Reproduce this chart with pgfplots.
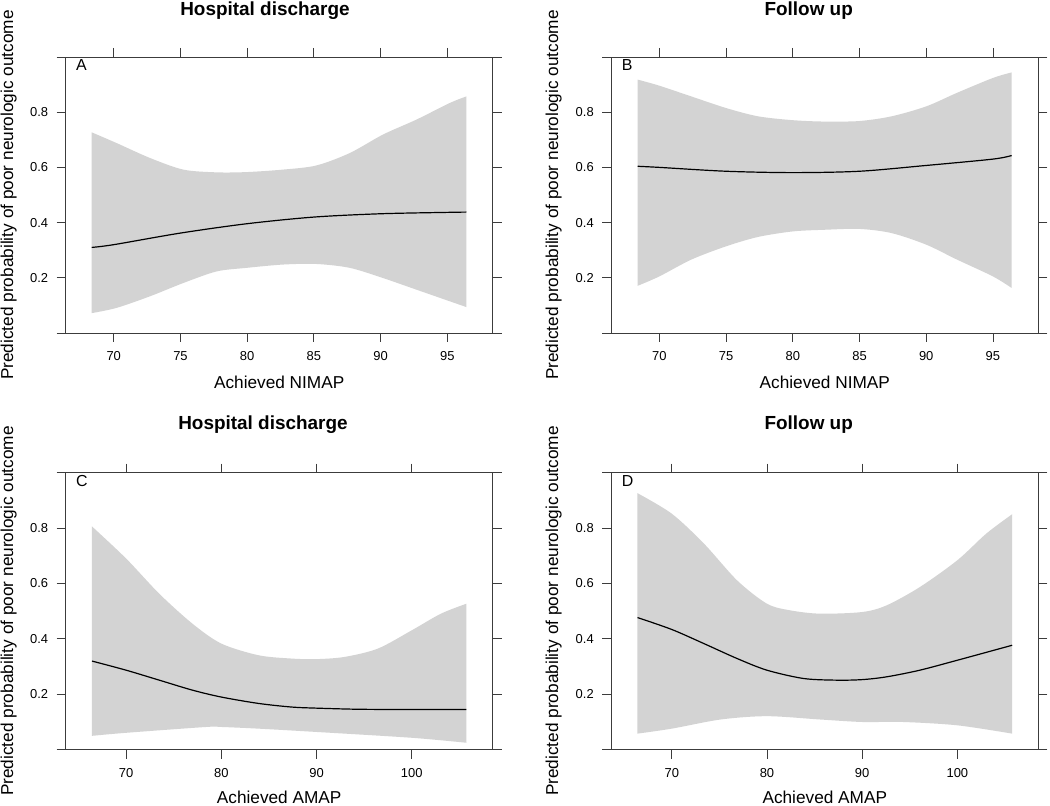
\documentclass[border=0pt]{standalone}
\usepackage{pgfplots}
\pgfplotsset{compat=1.18}
\usepgfplotslibrary{fillbetween}
\usepackage{fontspec}
\setmainfont{Liberation Sans}

\definecolor{band}{RGB}{211,211,211}
\definecolor{frame}{RGB}{60,60,60}

\pgfplotsset{
  panel/.style={
    scale only axis,
    width=427bp, height=276bp,
    anchor=south west,
    ymin=0, ymax=1,
    ytick={0,0.2,0.4,0.6,0.8,1},
    yticklabels={,0.2,0.4,0.6,0.8,},
    tick align=outside,
    xtick pos=both, ytick pos=both,
    xticklabel pos=lower, yticklabel pos=left,
    major tick length=9bp,
    axis line style={frame, line width=0.9bp},
    every tick/.style={frame, line width=0.9bp},
    tick label style={font=\fontsize{13}{15}\selectfont, inner sep=0pt},
    xticklabel style={yshift=-9.7bp},
    yticklabel style={xshift=-8.4bp},
    /pgf/number format/assume math mode=true,
  },
  nimap/.style={panel, xmin=66.4, xmax=98.4, xtick={70,75,80,85,90,95}},
  amap/.style={panel, height=277bp, xmin=63.65, xmax=108.5, xtick={70,80,90,100}},
  bandup/.style={name path=up, draw=none, smooth},
  bandlo/.style={name path=lo, draw=none, smooth},
  fitline/.style={black, line width=1.2bp, smooth},
}

\newcommand{\ttl}{\fontsize{19}{21}\selectfont\bfseries}
\newcommand{\lbl}{\fontsize{17.3}{19}\selectfont}
\newcommand{\ltr}{\fontsize{16}{18}\selectfont}

\begin{document}
\begin{tikzpicture}[x=1bp, y=1bp]

% A: hospital discharge, NIMAP
\begin{axis}[nimap, at={(65.7bp,473bp)}]
\addplot[bandup] coordinates {(68.35,0.727) (70.22,0.688) (72.72,0.634) (75.21,0.592) (77.71,0.582) (79.96,0.583) (82.70,0.592) (85.19,0.607) (87.69,0.652) (90.18,0.719) (92.68,0.773) (95.17,0.833) (96.42,0.857)};
\addplot[bandlo] coordinates {(68.35,0.072) (70.22,0.091) (72.72,0.133) (75.21,0.181) (77.71,0.223) (79.96,0.236) (82.70,0.248) (85.19,0.250) (87.69,0.236) (90.18,0.199) (92.68,0.157) (95.17,0.115) (96.42,0.094)};
\addplot[band, draw=none] fill between[of=up and lo];
\addplot[fitline] coordinates {(68.35,0.310) (70,0.320) (75,0.362) (80,0.396) (85,0.420) (90,0.432) (95,0.437) (96.42,0.438)};
\end{axis}

% B: follow up, NIMAP
\begin{axis}[nimap, at={(611.3bp,473bp)}]
\addplot[bandup] coordinates {(68.38,0.918) (70,0.896) (72.4,0.857) (75,0.815) (77.4,0.785) (80,0.771) (82.4,0.766) (85,0.768) (87.4,0.785) (90,0.821) (92.3,0.870) (95,0.924) (96.4,0.944)};
\addplot[bandlo] coordinates {(68.38,0.171) (70,0.205) (72.4,0.266) (75,0.314) (77.4,0.348) (80,0.368) (82.4,0.374) (85,0.377) (87.4,0.362) (90,0.320) (92.3,0.266) (95,0.205) (96.4,0.163)};
\addplot[band, draw=none] fill between[of=up and lo];
\addplot[fitline] coordinates {(68.38,0.604) (70,0.600) (75,0.586) (80,0.581) (85,0.586) (90,0.607) (95,0.630) (96.4,0.643)};
\end{axis}

% C: hospital discharge, AMAP
\begin{axis}[amap, at={(65.7bp,56.3bp)}]
\addplot[bandup] coordinates {(66.41,0.806) (70,0.690) (73.48,0.563) (76.96,0.455) (80,0.383) (83.9,0.341) (87.37,0.329) (90,0.327) (92.96,0.335) (96.44,0.365) (100,0.431) (103.06,0.491) (105.74,0.527)};
\addplot[bandlo] coordinates {(66.41,0.050) (70,0.061) (78.4,0.082) (80,0.082) (83.9,0.076) (90,0.064) (100,0.043) (105.74,0.025)};
\addplot[band, draw=none] fill between[of=up and lo];
\addplot[fitline] coordinates {(66.41,0.320) (70,0.287) (73.48,0.251) (76.96,0.215) (80,0.190) (83.9,0.167) (87.37,0.154) (90,0.150) (94.35,0.146) (100,0.145) (105.74,0.145)};
\end{axis}

% D: follow up, AMAP
\begin{axis}[amap, at={(611.3bp,56.3bp)}]
\addplot[bandup] coordinates {(66.40,0.926) (70,0.852) (73.38,0.744) (76.87,0.611) (80,0.527) (82.45,0.503) (85.59,0.491) (90,0.497) (92.56,0.521) (96.05,0.587) (100,0.684) (103.03,0.780) (105.75,0.850)};
\addplot[bandlo] coordinates {(66.40,0.058) (70,0.076) (75.13,0.109) (80,0.121) (85.59,0.109) (90,0.100) (94.3,0.100) (100,0.088) (105.75,0.058)};
\addplot[band, draw=none] fill between[of=up and lo];
\addplot[fitline] coordinates {(66.40,0.477) (70,0.434) (73.38,0.383) (76.87,0.329) (80,0.287) (83.85,0.257) (87.34,0.251) (90,0.253) (92.56,0.263) (96.05,0.287) (100,0.323) (105.75,0.377)};
\end{axis}

\begin{scope}[every node/.style={inner sep=0pt}]
% titles
\node[anchor=base, font=\ttl] at (265,790) {Hospital discharge};
\node[anchor=base, font=\ttl] at (808.7,790) {Follow up};
\node[anchor=base, font=\ttl] at (263,376.3) {Hospital discharge};
\node[anchor=base, font=\ttl] at (808.7,376.3) {Follow up};

% x labels
\node[anchor=base, font=\lbl] at (279.2,417) {Achieved NIMAP};
\node[anchor=base, font=\lbl] at (824.8,417) {Achieved NIMAP};
\node[anchor=base, font=\lbl] at (279.2,2.5) {Achieved AMAP};
\node[anchor=base, font=\lbl] at (824.8,2.5) {Achieved AMAP};

% y labels
\node[anchor=base, rotate=90, font=\lbl] at (13,611) {Predicted probability of poor neurologic outcome};
\node[anchor=base, rotate=90, font=\lbl] at (558,611) {Predicted probability of poor neurologic outcome};
\node[anchor=base, rotate=90, font=\lbl] at (13,195) {Predicted probability of poor neurologic outcome};
\node[anchor=base, rotate=90, font=\lbl] at (558,195) {Predicted probability of poor neurologic outcome};

% panel letters
\node[anchor=base west, font=\ltr] at (76,735) {A};
\node[anchor=base west, font=\ltr] at (621.7,735) {B};
\node[anchor=base west, font=\ltr] at (76,319) {C};
\node[anchor=base west, font=\ltr] at (621.7,319) {D};
\end{scope}

\pgfresetboundingbox
\path (0,0) rectangle (1050,806);
\end{tikzpicture}
\end{document}
